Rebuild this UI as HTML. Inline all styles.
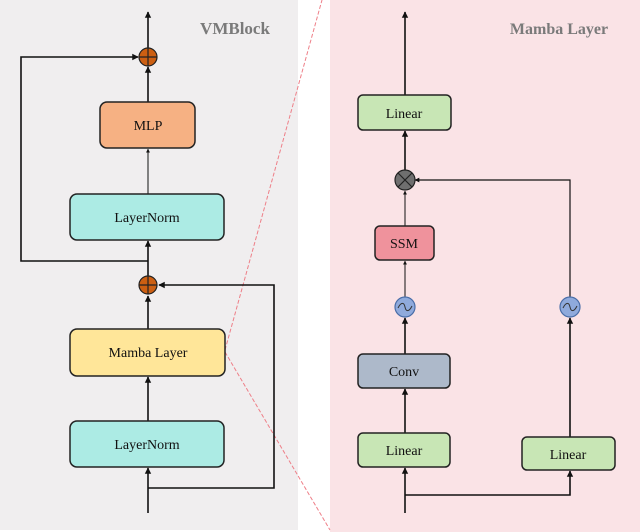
<!DOCTYPE html>
<html><head><style>html,body{margin:0;padding:0;background:#fff}svg{display:block}</style></head>
<body>
<svg width="640" height="532" viewBox="0 0 640 532" xmlns="http://www.w3.org/2000/svg" font-family="Liberation Serif, serif">
<defs>
<marker id="a" viewBox="0 0 10 10" refX="9" refY="5" markerWidth="4" markerHeight="5" orient="auto"><path d="M0,0L10,5L0,10z" fill="#111"/></marker>
</defs>
<rect x="0" y="0" width="298" height="530" fill="#f0eeef"/>
<rect x="330" y="0" width="310" height="532" fill="#fae3e6"/>
<line x1="225" y1="350" x2="322" y2="0" stroke="#ee7f88" stroke-width="1" stroke-dasharray="4,2"/>
<line x1="225" y1="352" x2="330" y2="530" stroke="#ee7f88" stroke-width="1" stroke-dasharray="4,2"/>
<text x="235" y="34" font-size="17" font-weight="bold" fill="#7a7a7a" text-anchor="middle">VMBlock</text>
<text x="559" y="34" font-size="16" font-weight="bold" fill="#7a7a7a" text-anchor="middle">Mamba Layer</text>
<g stroke="#111" stroke-width="1.6" fill="none">
<line x1="148" y1="48" x2="148" y2="12" marker-end="url(#a)"/>
<line x1="148" y1="102" x2="148" y2="67" marker-end="url(#a)"/>
<line x1="148" y1="194" x2="148" y2="149" marker-end="url(#a)" stroke-width="1"/>
<line x1="148" y1="276" x2="148" y2="241" marker-end="url(#a)"/>
<polyline points="148,261 21,261 21,57 138,57" marker-end="url(#a)"/>
<line x1="148" y1="329" x2="148" y2="296" marker-end="url(#a)"/>
<line x1="148" y1="421" x2="148" y2="377" marker-end="url(#a)"/>
<line x1="148" y1="513" x2="148" y2="468" marker-end="url(#a)"/>
<polyline points="148,488 274,488 274,285 159,285" marker-end="url(#a)"/>
<line x1="405" y1="95" x2="405" y2="12" marker-end="url(#a)"/>
<line x1="405" y1="171" x2="405" y2="131" marker-end="url(#a)"/>
<line x1="405" y1="226" x2="405" y2="191" marker-end="url(#a)" stroke-width="1"/>
<line x1="405" y1="297" x2="405" y2="261" marker-end="url(#a)" stroke-width="1"/>
<line x1="405" y1="354" x2="405" y2="318" marker-end="url(#a)"/>
<line x1="405" y1="433" x2="405" y2="389" marker-end="url(#a)"/>
<line x1="405" y1="513" x2="405" y2="468" marker-end="url(#a)"/>
<polyline points="405,495 570,495 570,471" marker-end="url(#a)"/>
<line x1="570" y1="437" x2="570" y2="318" marker-end="url(#a)"/>
<polyline points="570,297 570,180 415,180" marker-end="url(#a)" stroke-width="1.2"/>
</g>
<g stroke="#222" stroke-width="1.5">
<rect x="100" y="102" width="95" height="46" rx="7" fill="#f6b183"/>
<rect x="70" y="194" width="154" height="46" rx="7" fill="#acebe4"/>
<rect x="70" y="329" width="155" height="47" rx="7" fill="#ffe699"/>
<rect x="70" y="421" width="154" height="46" rx="7" fill="#acebe4"/>
<rect x="358" y="95" width="93" height="35" rx="5" fill="#c8e6b5"/>
<rect x="375" y="226" width="59" height="34" rx="5" fill="#ef929c"/>
<rect x="358" y="354" width="92" height="34" rx="5" fill="#adb9ca"/>
<rect x="358" y="433" width="92" height="34" rx="5" fill="#c8e6b5"/>
<rect x="522" y="437" width="93" height="33" rx="5" fill="#c8e6b5"/>
</g>
<g stroke="#222" stroke-width="1.2">
<circle cx="148" cy="57" r="9" fill="#cc5f12"/>
<path d="M139,57H157M148,48V66"/>
<circle cx="148" cy="285" r="9" fill="#cc5f12"/>
<path d="M139,285H157M148,276V294"/>
<circle cx="405" cy="180" r="10" fill="#6f6f6f"/>
<path d="M398,173L412,187M412,173L398,187"/>
<circle cx="405" cy="307" r="10" fill="#8faadc" stroke="#4a6ea8"/>
<path d="M398,308C401,302 404,302 405,307S409,312 412,306" fill="none" stroke="#333" stroke-width="1"/>
<circle cx="570" cy="307" r="10" fill="#8faadc" stroke="#4a6ea8"/>
<path d="M563,308C566,302 569,302 570,307S574,312 577,306" fill="none" stroke="#333" stroke-width="1"/>
</g>
<g font-size="14" fill="#111" text-anchor="middle">
<text x="148" y="130">MLP</text>
<text x="147" y="222">LayerNorm</text>
<text x="148" y="357">Mamba Layer</text>
<text x="147" y="449">LayerNorm</text>
<text x="404" y="118">Linear</text>
<text x="404" y="248">SSM</text>
<text x="404" y="376">Conv</text>
<text x="404" y="455">Linear</text>
<text x="568" y="459">Linear</text>
</g>
</svg>
</body></html>
